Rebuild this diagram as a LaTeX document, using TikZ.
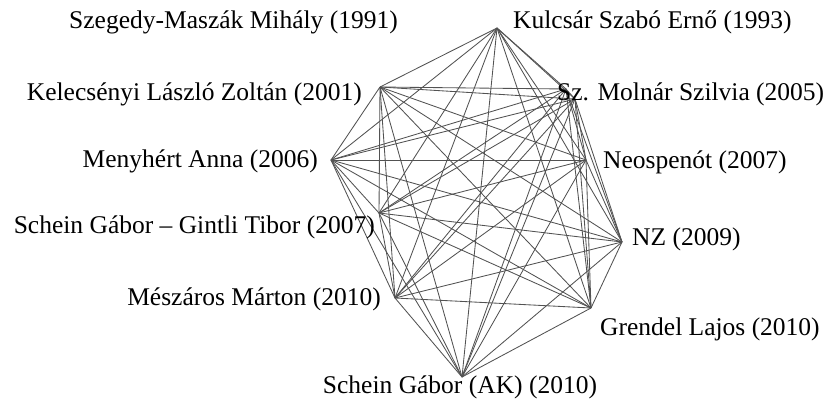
\documentclass[tikz,border=0pt]{standalone}
\usepackage{fontspec}
\setmainfont{Liberation Serif}
\usepackage{tikz}

\tikzset{
  vertex/.style={shape=coordinate},
  edge/.style={draw=black!68, line width=0.85pt},
  lbl/.style={inner sep=0pt, font=\fontsize{25.5}{30}\selectfont}
}

\begin{document}
\begin{tikzpicture}[x=1pt, y=-1pt]
            \useasboundingbox (0,0) rectangle (825,408);
            % points of the graph
            \node[vertex] (kul) at (497,28) {};
            \node[vertex] (kel) at (380,87) {};
            \node[vertex] (szm) at (566,89) {};
            \node[vertex] (mol) at (575,99) {};
            \node[vertex] (men) at (331,160) {};
            \node[vertex] (neo) at (586,160) {};
            \node[vertex] (sch) at (379,213) {};
            \node[vertex] (mes) at (395,298) {};
            \node[vertex] (nz) at (622,242) {};
            \node[vertex] (gre) at (591,308) {};
            \node[vertex] (ak) at (462,377) {};
            % every pair is joined
            \foreach \a [count=\i] in {kul,kel,szm,mol,men,neo,sch,mes,nz,gre,ak}
              \foreach \b [count=\j] in {kul,kel,szm,mol,men,neo,sch,mes,nz,gre,ak}
                {\ifnum\j>\i \draw[edge] (\a) -- (\b); \fi}
            % names
            \node[lbl, anchor=base east] (lszm) at (398,28) {Szegedy-Maszák Mihály (1991)};
            \node[lbl, anchor=base west] (lkul) at (513,28) {Kulcsár Szabó Ernő (1993)};
            \node[lbl, anchor=base east] (lkel) at (362,100) {Kelecsényi László Zoltán (2001)};
            \node[lbl, anchor=base west] (lmol) at (557,100) {Sz. Molnár Szilvia (2005)};
            \node[lbl, anchor=base east] (lmen) at (318,167) {Menyhért Anna (2006)};
            \node[lbl, anchor=base west] (lneo) at (603,168) {Neospenót (2007)};
            \node[lbl, anchor=base east] (lsch) at (375,233) {Schein Gábor -- Gintli Tibor (2007)};
            \node[lbl, anchor=base west] (lnz) at (632,245) {NZ (2009)};
            \node[lbl, anchor=base east] (lmes) at (381,305) {Mészáros Márton (2010)};
            \node[lbl, anchor=base west] (lgre) at (600,335) {Grendel Lajos (2010)};
            \node[lbl, anchor=base] (lak) at (460,393) {Schein Gábor (AK) (2010)};
        \end{tikzpicture}
\end{document}
